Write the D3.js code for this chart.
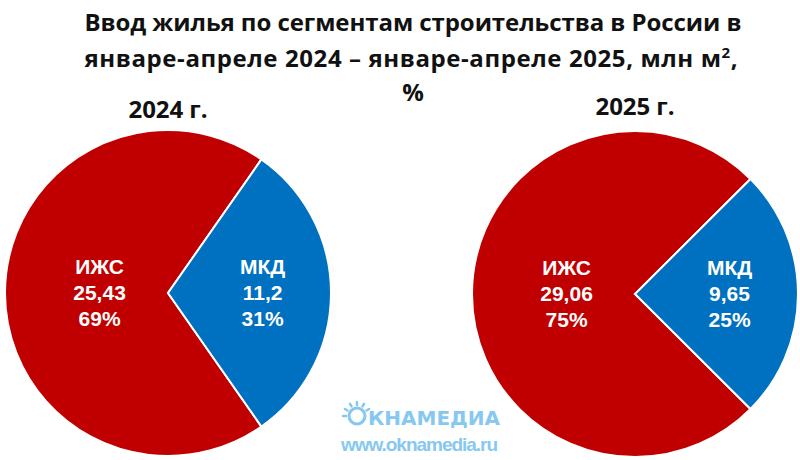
<!DOCTYPE html>
<html lang="ru">
<head>
<meta charset="UTF-8">
<title>Ввод жилья по сегментам</title>
<style>
  body { margin: 0; background: #fff; }
  svg { display: block; }
</style>
</head>
<body>
<div id="chart"></div>
<script src="https://d3js.org/d3.v7.min.js"></script>
<script>
    // data
    var segments = ["ИЖС", "МКД"];
    var years = ["2024 г.", "2025 г."];
    var values2024 = [25.43, 11.2];
    var values2025 = [29.06, 9.65];
    var percents2024 = ["69%", "31%"];
    var percents2025 = ["75%", "25%"];
    var titleLine1 = "Ввод жилья по сегментам строительства в России в";
    var titleLine2 = "январе-апреле 2024 – январе-апреле 2025, млн м";
    var titleLine3 = "%";

    var width = 800, height = 460;
    var colors = d3.scaleOrdinal().domain(segments).range(["#C00000", "#0070C0"]);
    var titleFont = "'Open Sans', 'Liberation Sans', sans-serif";

    var svg = d3.select("#chart").append("svg")
        .attr("width", width)
        .attr("height", height);

    // title
    function titleText(x, y, len) {
        var t = svg.append("text")
            .attr("x", x)
            .attr("y", y)
            .attr("text-anchor", "middle")
            .style("font-family", titleFont)
            .style("font-weight", "bold")
            .style("font-size", "24px")
            .style("fill", "#111");
        if (len) t.attr("textLength", len);
        return t;
    }
    titleText(413, 31, 657).text(titleLine1);
    var t2 = titleText(411, 67, 653);
    t2.append("tspan").text(titleLine2);
    t2.append("tspan").attr("dy", -9).style("font-size", "15px").text("2");
    t2.append("tspan").attr("dy", 9).text(",");
    titleText(413, 101).text(titleLine3);

    var fmt = function (v) { return String(v).replace(".", ","); };

    var pies = [
        {year: years[0], values: values2024, pct: percents2024, cx: 168, cy: 293, yearX: 168, yearY: 118},
        {year: years[1], values: values2025, pct: percents2025, cx: 635, cy: 294, yearX: 635, yearY: 115}
    ];

    var r = 163;
    var arc = d3.arc().innerRadius(0).outerRadius(r);

    pies.forEach(function (p) {
        var total = d3.sum(p.values);
        // rotate so that the МКД slice is centred on 3 o'clock
        var mkdAngle = p.values[1] / total * 2 * Math.PI;
        var start = Math.PI / 2 + mkdAngle / 2;
        var pie = d3.pie().sort(null)
            .startAngle(start)
            .endAngle(start + 2 * Math.PI);
        var arcs = pie(p.values);

        var g = svg.append("g").attr("transform", "translate(" + p.cx + "," + p.cy + ")");

        g.selectAll("path").data(arcs).enter()
            .append("path")
            .attr("d", arc)
            .attr("fill", function (d, i) { return colors(segments[i]); })
            .attr("stroke", "#fff")
            .attr("stroke-width", 2);

        g.selectAll("g.lbl").data(arcs).enter()
            .append("g")
            .attr("class", "lbl")
            .attr("transform", function (d, i) {
                var lr = i === 0 ? r * 0.42 : r * 0.58;
                var c = d3.arc().innerRadius(lr).outerRadius(lr).centroid(d);
                return "translate(" + c[0] + "," + c[1] + ")";
            })
            .each(function (d, i) {
                var lines = [segments[i], fmt(p.values[i]), p.pct[i]];
                d3.select(this).selectAll("text").data(lines).enter()
                    .append("text")
                    .attr("x", 0)
                    .attr("y", function (t, k) { return -19 + k * 26; })
                    .attr("text-anchor", "middle")
                    .style("font-family", "'Liberation Sans', Arial, sans-serif")
                    .style("font-weight", "bold")
                    .style("font-size", "21px")
                    .style("fill", "#fff")
                    .text(function (t) { return t; });
            });

        titleText(p.yearX, p.yearY, 79).text(p.year);
    });

    // watermark
    var wm = svg.append("g").style("fill", "#86c8ef");
    var sun = wm.append("g").attr("transform", "translate(357,416)");
    sun.append("circle").attr("r", 8).attr("fill", "none")
        .attr("stroke", "#86c8ef").attr("stroke-width", 3);
    [-150, -120, -90, -60, -30, 180].forEach(function (a) {
        var rad = a * Math.PI / 180;
        sun.append("line")
            .attr("x1", Math.cos(rad) * 11).attr("y1", Math.sin(rad) * 11)
            .attr("x2", Math.cos(rad) * 14).attr("y2", Math.sin(rad) * 14)
            .attr("stroke", "#86c8ef").attr("stroke-width", 2.5)
            .attr("stroke-linecap", "round");
    });
    wm.append("text")
        .attr("x", 368).attr("y", 425)
        .style("font-family", "'DejaVu Sans', sans-serif")
        .style("font-weight", "bold")
        .style("font-size", "20px")
        .attr("textLength", 132)
        .text("КНАМЕДИА");
    wm.append("text")
        .attr("x", 341).attr("y", 451)
        .style("font-family", "'Liberation Sans', Arial, sans-serif")
        .style("font-weight", "bold")
        .style("font-size", "19px")
        .attr("textLength", 157)
        .text("www.oknamedia.ru");
</script>
</body>
</html>
